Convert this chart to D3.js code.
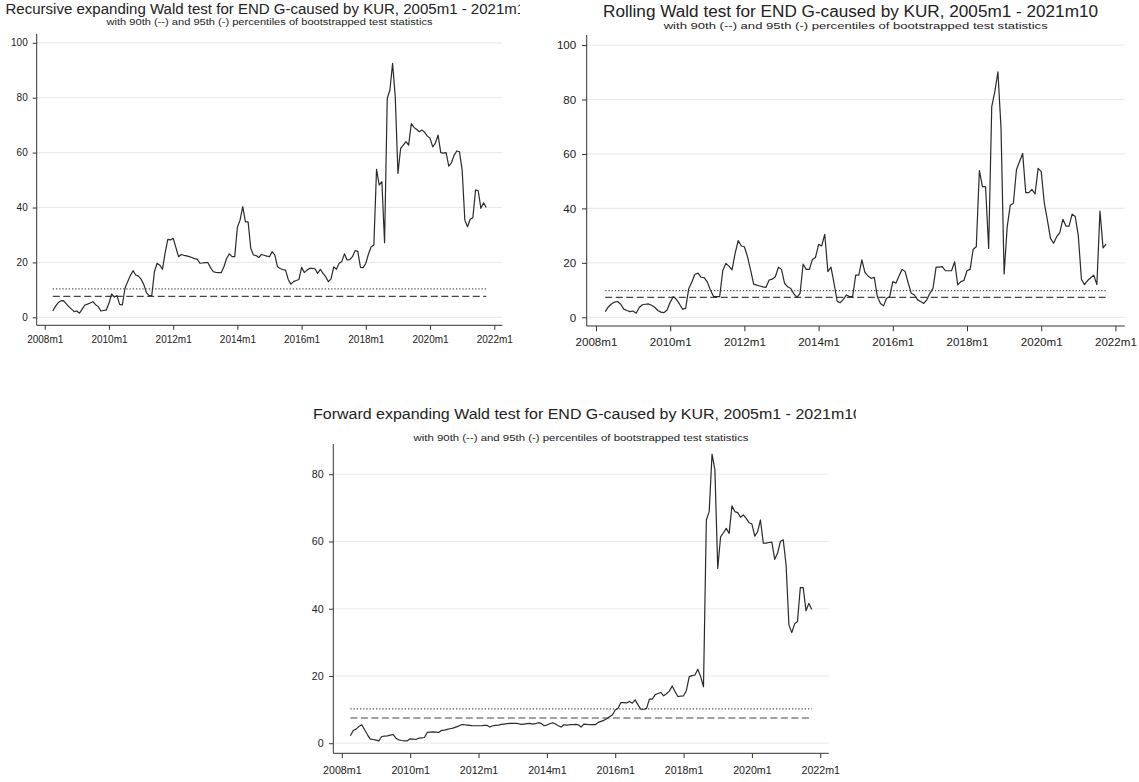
<!DOCTYPE html>
<html>
<head>
<meta charset="utf-8">
<style>
  html, body { margin: 0; padding: 0; background: #fff; }
  svg { display: block; font-family: "Liberation Sans", Arial, sans-serif; }
</style>
</head>
<body>
<svg id="chart" width="1139" height="782"></svg>
<script src="https://cdn.jsdelivr.net/npm/d3@7/dist/d3.min.js"></script>
<script>
// monthly test statistics, 2008m4 .. 2021m10
const startYear = 2008, startMonth = 4;

const recursive = [
  2.3, 4.0, 5.3, 6.0, 6.1, 5.0, 3.9, 3.0, 2.1, 2.3, 1.5, 3.0, 4.5, 4.8, 5.2, 5.7, 4.6, 3.9, 2.3, 2.5,
  2.7, 5.1, 8.5, 7.4, 7.9, 4.7, 4.5, 10.6, 13.0, 15.2, 17.0, 15.4, 15.0, 13.9, 12.0, 9.0, 7.9, 7.9, 16.6, 19.7,
  19.0, 17.5, 23.5, 28.4, 28.2, 28.8, 25.5, 22.1, 22.9, 22.6, 22.4, 22.1, 21.8, 21.4, 21.2, 19.7, 19.8, 19.9, 19.9, 18.0,
  16.6, 16.4, 16.3, 16.3, 18.5, 21.5, 23.1, 22.1, 22.1, 32.8, 35.4, 40.3, 34.8, 34.8, 25.1, 22.7, 22.5, 21.8, 22.9, 22.6,
  22.3, 22.1, 23.9, 22.7, 18.4, 17.8, 17.4, 17.2, 13.8, 12.1, 13.0, 13.4, 13.8, 18.2, 16.3, 17.2, 17.8, 17.8, 17.7, 16.0,
  17.5, 16.0, 14.8, 13.0, 14.0, 18.4, 17.5, 19.7, 20.3, 23.1, 20.9, 21.0, 22.1, 24.3, 24.0, 18.2, 18.1, 19.7, 23.1, 25.7,
  26.3, 53.9, 48.2, 49.4, 27.2, 79.7, 82.8, 92.5, 80.3, 52.4, 61.5, 62.7, 64.0, 62.7, 70.6, 69.2, 68.4, 67.6, 68.2, 67.4,
  66.0, 65.2, 62.1, 63.5, 66.4, 60.0, 59.8, 60.0, 55.1, 56.3, 59.1, 60.6, 60.3, 53.6, 35.4, 33.0, 35.7, 36.3, 46.4, 46.1,
  39.7, 41.7, 40.0
];

const rolling = [
  2.1, 3.8, 4.9, 5.6, 5.8, 4.8, 3.0, 2.5, 2.1, 2.3, 1.5, 3.6, 4.6, 4.8, 4.9, 4.4, 3.7, 2.5, 1.9, 1.7,
  2.7, 5.5, 7.6, 6.6, 4.9, 3.0, 3.3, 10.5, 13.0, 15.8, 16.2, 14.7, 14.6, 13.0, 10.0, 7.7, 7.6, 7.6, 17.1, 19.8,
  18.8, 17.4, 23.5, 28.2, 26.2, 25.9, 22.3, 17.4, 12.2, 11.8, 11.5, 11.2, 11.0, 13.7, 14.0, 14.9, 18.4, 17.6, 12.5, 11.2,
  10.6, 8.6, 7.3, 8.8, 19.5, 17.6, 17.6, 21.2, 22.0, 26.8, 26.2, 30.5, 16.8, 18.4, 12.5, 5.8, 5.4, 6.6, 8.2, 7.6,
  7.6, 15.5, 15.5, 21.1, 16.4, 15.2, 14.3, 14.7, 7.6, 5.1, 4.2, 7.0, 7.6, 13.1, 12.5, 15.2, 17.6, 16.8, 12.5, 8.8,
  8.2, 6.4, 5.8, 5.1, 6.4, 8.8, 10.6, 18.4, 18.4, 18.6, 17.1, 17.1, 17.1, 20.4, 11.9, 13.1, 13.5, 17.1, 17.6, 25.0,
  25.9, 53.9, 48.0, 48.0, 25.3, 77.4, 82.9, 90.2, 69.4, 15.9, 33.3, 41.2, 41.9, 54.3, 57.2, 60.2, 45.8, 45.8, 47.0, 45.3,
  54.7, 53.5, 41.9, 35.7, 29.0, 27.2, 29.6, 31.1, 36.0, 33.5, 33.5, 37.9, 37.0, 30.0, 14.0, 12.0, 13.5, 14.5, 15.5, 12.0,
  39.0, 25.5, 27.0
];

const forward = [
  2.2, 3.8, 4.2, 5.0, 5.5, 4.0, 2.5, 1.2, 1.1, 0.9, 0.7, 2.0, 2.1, 2.2, 2.4, 2.6, 1.5, 1.0, 0.8, 0.7,
  0.7, 1.3, 1.2, 1.1, 1.5, 1.6, 1.7, 3.2, 3.3, 3.4, 3.3, 3.2, 3.8, 3.9, 4.1, 4.3, 4.5, 4.8, 5.1, 5.5,
  5.5, 5.4, 5.3, 5.2, 5.2, 5.2, 5.2, 5.3, 5.3, 4.8, 5.2, 5.3, 5.4, 5.6, 5.7, 5.8, 5.9, 5.9, 5.9, 5.8,
  5.6, 5.7, 5.8, 5.9, 5.7, 5.8, 6.1, 5.9, 5.2, 5.4, 5.8, 6.1, 5.7, 5.2, 4.8, 5.5, 5.4, 5.5, 5.5, 5.6,
  5.5, 4.8, 5.7, 5.6, 5.5, 5.5, 5.5, 6.2, 6.5, 6.8, 7.3, 7.9, 8.4, 9.9, 10.4, 12.1, 12.1, 12.0, 12.4, 11.9,
  12.9, 11.4, 10.1, 10.1, 10.3, 13.1, 13.1, 14.4, 14.8, 15.1, 14.1, 14.7, 15.5, 17.0, 15.4, 13.9, 14.0, 14.1, 15.7, 19.8,
  20.1, 20.3, 22.0, 19.8, 16.8, 66.4, 68.9, 86.0, 81.3, 52.0, 61.4, 62.6, 63.9, 62.4, 70.6, 68.9, 68.6, 67.2, 67.9, 66.9,
  65.6, 65.2, 61.6, 62.9, 66.4, 59.5, 59.5, 59.7, 59.8, 54.7, 56.5, 60.0, 60.5, 53.0, 35.2, 32.9, 35.5, 36.2, 46.3, 46.3,
  39.4, 41.6, 39.8
];

// bootstrapped critical values (90th dotted, 95th dashed)
const crit90 = [10.4, 9.8, 10.2];
const crit95 = [7.6, 7.3, 7.5];

const xTickYears = [2008, 2010, 2012, 2014, 2016, 2018, 2020, 2022];
const yTicksBig = [0, 20, 40, 60, 80, 100];
const yTicksSmall = [0, 20, 40, 60, 80];

const titles = [
  "Recursive expanding Wald test for END G-caused by KUR, 2005m1 - 2021m10",
  "Rolling Wald test for END G-caused by KUR, 2005m1 - 2021m10",
  "Forward expanding Wald test for END G-caused by KUR, 2005m1 - 2021m10"
];
const subtitle = "with 90th (--) and 95th (-) percentiles of bootstrapped test statistics";

// panel layout (pixels)
const panels = [
  { values: recursive, c90: crit90[0], c95: crit95[0], title: titles[0], yTicks: yTicksBig,
    x0: 36.7, x1: 502.3, yTop: 34, yBot: 325.3, yDomain: [-2.9, 103.2], k: 1,
    clip: [0, 0, 520, 390], titleX: 5.5, titleY: 13.5, titleW: 528, subY: 24.5, subW: 326, labPad: 6.5 },
  { values: rolling, c90: crit90[1], c95: crit95[1], title: titles[1], yTicks: yTicksBig,
    x0: 586.7, x1: 1124.7, yTop: 35, yBot: 326, yDomain: [-3.2, 103.7], k: 1.16,
    clip: [540, 0, 599, 390], titleX: 603, titleY: 17, titleW: 495, subY: 28.5, subW: 384, labPad: 5.5 },
  { values: forward, c90: crit90[2], c95: crit95[2], title: titles[2], yTicks: yTicksSmall,
    x0: 333.3, x1: 828.8, yTop: 444, yBot: 753.3, yDomain: [-3.0, 89.0], k: 1.067,
    clip: [290, 395, 566, 387], titleX: 313, titleY: 419, titleW: 549, subY: 441, subW: 335, labPad: 7.5 }
];

const svg = d3.select('#chart');
const defs = svg.append('defs');
const dateOf = i => startYear + (startMonth - 1 + i) / 12;

panels.forEach((p, n) => {
  defs.append('clipPath').attr('id', 'clip' + n)
    .append('rect').attr('x', p.clip[0]).attr('y', p.clip[1])
    .attr('width', p.clip[2]).attr('height', p.clip[3]);

  const g = svg.append('g').attr('clip-path', `url(#clip${n})`);

  const x = d3.scaleLinear().domain([2007.75, 2022.25]).range([p.x0, p.x1]);
  const y = d3.scaleLinear().domain(p.yDomain).range([p.yBot, p.yTop]);
  const k = p.k;

  // titles
  g.append('text')
    .attr('x', p.titleX).attr('y', p.titleY)
    .attr('font-size', 14 * k)
    .attr('fill', '#222')
    .attr('textLength', p.titleW).attr('lengthAdjust', 'spacingAndGlyphs')
    .text(p.title);
  g.append('text')
    .attr('x', (p.x0 + p.x1) / 2).attr('y', p.subY)
    .attr('text-anchor', 'middle')
    .attr('font-size', 8.4 * k)
    .attr('fill', '#222')
    .attr('textLength', p.subW).attr('lengthAdjust', 'spacingAndGlyphs')
    .text(subtitle);

  // gridlines
  g.append('g').selectAll('line')
    .data(p.yTicks)
    .join('line')
    .attr('x1', p.x0).attr('x2', p.x1)
    .attr('y1', d => y(d)).attr('y2', d => y(d))
    .attr('stroke', '#ebebeb').attr('stroke-width', 1.2);

  // y axis
  const yAxis = g.append('g')
    .attr('transform', `translate(${p.x0},0)`)
    .call(d3.axisLeft(y).tickValues(p.yTicks).tickSize(4 * k).tickPadding(5 * k));
  yAxis.select('.domain').attr('d', `M0,${p.yTop}V${p.yBot}`).attr('stroke', '#333');
  yAxis.selectAll('.tick line').attr('stroke', '#333');
  yAxis.selectAll('.tick text').attr('font-size', 10 * k)
    .attr('font-family', '"Liberation Sans", Arial, sans-serif').attr('fill', '#222');

  // x axis
  const xAxis = g.append('g')
    .attr('transform', `translate(0,${p.yBot})`)
    .call(d3.axisBottom(x).tickValues(xTickYears).tickSize(4.5 * k).tickPadding(p.labPad * k)
      .tickFormat(d => d + 'm1'));
  xAxis.select('.domain').attr('d', `M${p.x0},0H${p.x1}`).attr('stroke', '#333');
  xAxis.selectAll('.tick line').attr('stroke', '#333');
  xAxis.selectAll('.tick text').attr('font-size', 10 * k)
    .attr('font-family', '"Liberation Sans", Arial, sans-serif').attr('fill', '#222');

  const xs = x(dateOf(0)), xe = x(dateOf(p.values.length - 1));

  // critical value lines
  g.append('line')
    .attr('x1', xs).attr('x2', xe).attr('y1', y(p.c90)).attr('y2', y(p.c90))
    .attr('stroke', '#555').attr('stroke-width', 1.3).attr('stroke-dasharray', '1.3,1.9');
  g.append('line')
    .attr('x1', xs).attr('x2', xe).attr('y1', y(p.c95)).attr('y2', y(p.c95))
    .attr('stroke', '#444').attr('stroke-width', 1.2).attr('stroke-dasharray', '7,3.5');

  // test statistic
  const line = d3.line().x((d, i) => x(dateOf(i))).y(d => y(d));
  g.append('path')
    .datum(p.values)
    .attr('d', line)
    .attr('fill', 'none')
    .attr('stroke', '#2a2a2a')
    .attr('stroke-width', 1.2)
    .attr('stroke-linejoin', 'round');
});
</script>
</body>
</html>
